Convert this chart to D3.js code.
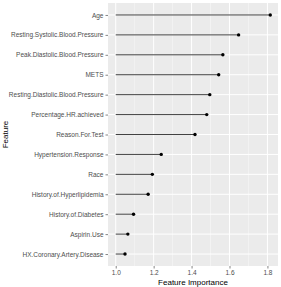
<!DOCTYPE html>
<html>
<head>
<meta charset="utf-8">
<script src="https://cdn.jsdelivr.net/npm/d3@7"></script>
<style>
  body { margin: 0; background: #fff; }
  text { font-family: "Liberation Sans", Arial, sans-serif; }
</style>
</head>
<body>
<div id="chart"></div>
<script>
// feature names, top to bottom
var features = ["Age", "Resting.Systolic.Blood.Pressure", "Peak.Diastolic.Blood.Pressure",
  "METS", "Resting.Diastolic.Blood.Pressure", "Percentage.HR.achieved", "Reason.For.Test",
  "Hypertension.Response", "Race", "History.of.Hyperlipidemia", "History.of.Diabetes",
  "Aspirin.Use", "HX.Coronary.Artery.Disease"];
var importance = [1.815, 1.648, 1.565, 1.543, 1.496, 1.48, 1.418,
  1.24, 1.193, 1.171, 1.094, 1.064, 1.049];
var xTicks = [1.0, 1.2, 1.4, 1.6, 1.8];
var xMinor = [1.1, 1.3, 1.5, 1.7];

var data = features.map(function(f, i) { return {name: f, value: importance[i]}; });

var width = 281, height = 287;
var margin = {top: 3, right: 3, bottom: 21, left: 108};
var pw = width - margin.left - margin.right,
    ph = height - margin.top - margin.bottom;

var svg = d3.select("#chart").append("svg")
  .attr("width", width)
  .attr("height", height);

var g = svg.append("g")
  .attr("transform", "translate(" + margin.left + "," + margin.top + ")");

var lo = 1.0, hi = d3.max(importance), pad = (hi - lo) * 0.05;
var x = d3.scaleLinear().domain([lo - pad, hi + pad]).range([0, pw]);

// discrete scale with ggplot-style 0.6 expansion
var y = d3.scalePoint().domain(features).range([0, ph]).padding(0.6);

g.append("rect")
  .attr("width", pw).attr("height", ph)
  .attr("fill", "#EBEBEB");

g.selectAll(".minor")
  .data(xMinor).enter().append("line")
  .attr("x1", d => x(d)).attr("x2", d => x(d))
  .attr("y1", 0).attr("y2", ph)
  .attr("stroke", "#fff").attr("stroke-width", 0.5).attr("opacity", 0.8);

g.selectAll(".vmajor")
  .data(xTicks).enter().append("line")
  .attr("x1", d => x(d)).attr("x2", d => x(d))
  .attr("y1", 0).attr("y2", ph)
  .attr("stroke", "#fff").attr("stroke-width", 1);

g.selectAll(".hmajor")
  .data(features).enter().append("line")
  .attr("x1", 0).attr("x2", pw)
  .attr("y1", d => y(d)).attr("y2", d => y(d))
  .attr("stroke", "#fff").attr("stroke-width", 1);

// lollipops
g.selectAll(".seg")
  .data(data).enter().append("line")
  .attr("x1", x(1.0)).attr("x2", d => x(d.value))
  .attr("y1", d => y(d.name)).attr("y2", d => y(d.name))
  .attr("stroke", "#111").attr("stroke-width", 0.8);

g.selectAll(".dot")
  .data(data).enter().append("circle")
  .attr("cx", d => x(d.value)).attr("cy", d => y(d.name))
  .attr("r", 1.7).attr("fill", "#000");

// axes
var xAxis = g.append("g")
  .attr("transform", "translate(0," + ph + ")")
  .call(d3.axisBottom(x).tickValues(xTicks).tickSize(2.5).tickPadding(1.5)
    .tickFormat(d3.format(".1f")));
var yAxis = g.append("g")
  .call(d3.axisLeft(y).tickSize(2.5).tickPadding(2));

[xAxis, yAxis].forEach(function(a) {
  a.select(".domain").remove();
  a.selectAll(".tick line").attr("stroke", "#333").attr("stroke-width", 0.6);
  a.selectAll(".tick text").attr("fill", "#4D4D4D")
    .style("font-size", "6.5px")
    .style("font-family", "'Liberation Sans', Arial, sans-serif");
});

svg.append("text")
  .attr("x", margin.left + pw / 2).attr("y", 285.2)
  .attr("text-anchor", "middle")
  .style("font-size", "8px").attr("fill", "#000")
  .text("Feature Importance");

svg.append("text")
  .attr("transform", "translate(7.5," + (margin.top + ph / 2) + ") rotate(-90)")
  .attr("text-anchor", "middle")
  .style("font-size", "8px").attr("fill", "#000")
  .text("Feature");
</script>
</body>
</html>
